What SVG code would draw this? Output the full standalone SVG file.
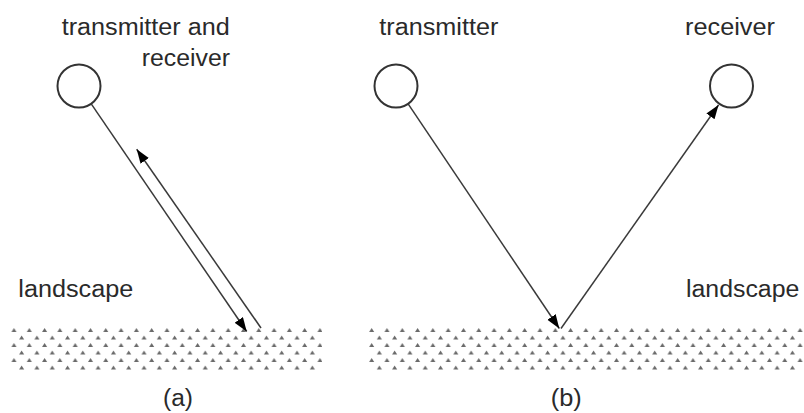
<svg xmlns="http://www.w3.org/2000/svg" width="804" height="413" viewBox="0 0 804 413">
<style>
.lbl{font-family:"Liberation Sans",Arial,sans-serif;font-size:23px;fill:#2a2a2a}
.node{fill:#fff;stroke:#333;stroke-width:2}
.conn{stroke:#3a3a3a;stroke-width:1.5;fill:none;marker-end:url(#ah)}
</style>
<defs>
<marker id="ah" markerUnits="userSpaceOnUse" markerWidth="15" markerHeight="11" refX="14" refY="5" orient="auto">
<path d="M0,0 L14,5 L0,10 z" fill="#000"/>
</marker>
<pattern id="ground" patternUnits="userSpaceOnUse" x="11.5" y="328" width="15.3" height="15">
<polygon points="0,4 2.5,0 5,4" fill="#6a6a6a"/>
<polygon points="7.65,11.5 10.15,7.5 12.65,11.5" fill="#6a6a6a"/>
</pattern>
</defs>
<rect width="804" height="413" fill="#fff"/>
<g id="ground-a"><rect x="10" y="327" width="312" height="43" fill="url(#ground)"/></g>
<g id="ground-b" transform="translate(357.7,0)"><rect x="10" y="327" width="450" height="43" fill="url(#ground)"/></g>
<g id="connectors">
<line class="conn" x1="91.4" y1="104.2" x2="246.7" y2="331.5"/>
<line class="conn" x1="261" y1="328" x2="136.7" y2="149.3"/>
<line class="conn" x1="408.3" y1="104.2" x2="559.3" y2="328.5"/>
<line class="conn" x1="561" y1="328.5" x2="718.5" y2="105"/>
</g>
<g id="node-txrx">
<circle class="node" cx="79" cy="86" r="21.5"/>
<text class="lbl" x="61.7" y="35" textLength="168" lengthAdjust="spacingAndGlyphs">transmitter and</text>
<text class="lbl" x="141.7" y="66" textLength="88.3" lengthAdjust="spacingAndGlyphs">receiver</text>
</g>
<g id="node-tx">
<circle class="node" cx="396" cy="86" r="21.5"/>
<text class="lbl" x="379.3" y="35" textLength="119" lengthAdjust="spacingAndGlyphs">transmitter</text>
</g>
<g id="node-rx">
<circle class="node" cx="731.5" cy="86" r="21.5"/>
<text class="lbl" x="685" y="35" textLength="90" lengthAdjust="spacingAndGlyphs">receiver</text>
</g>
<g id="label-landscape-a"><text class="lbl" x="18.3" y="297" textLength="115" lengthAdjust="spacingAndGlyphs">landscape</text></g>
<g id="label-landscape-b"><text class="lbl" x="686" y="297" textLength="113.3" lengthAdjust="spacingAndGlyphs">landscape</text></g>
<g id="caption-a"><text class="lbl" x="163" y="406" textLength="30" lengthAdjust="spacingAndGlyphs">(a)</text></g>
<g id="caption-b"><text class="lbl" x="550.7" y="406" textLength="31" lengthAdjust="spacingAndGlyphs">(b)</text></g>
</svg>
